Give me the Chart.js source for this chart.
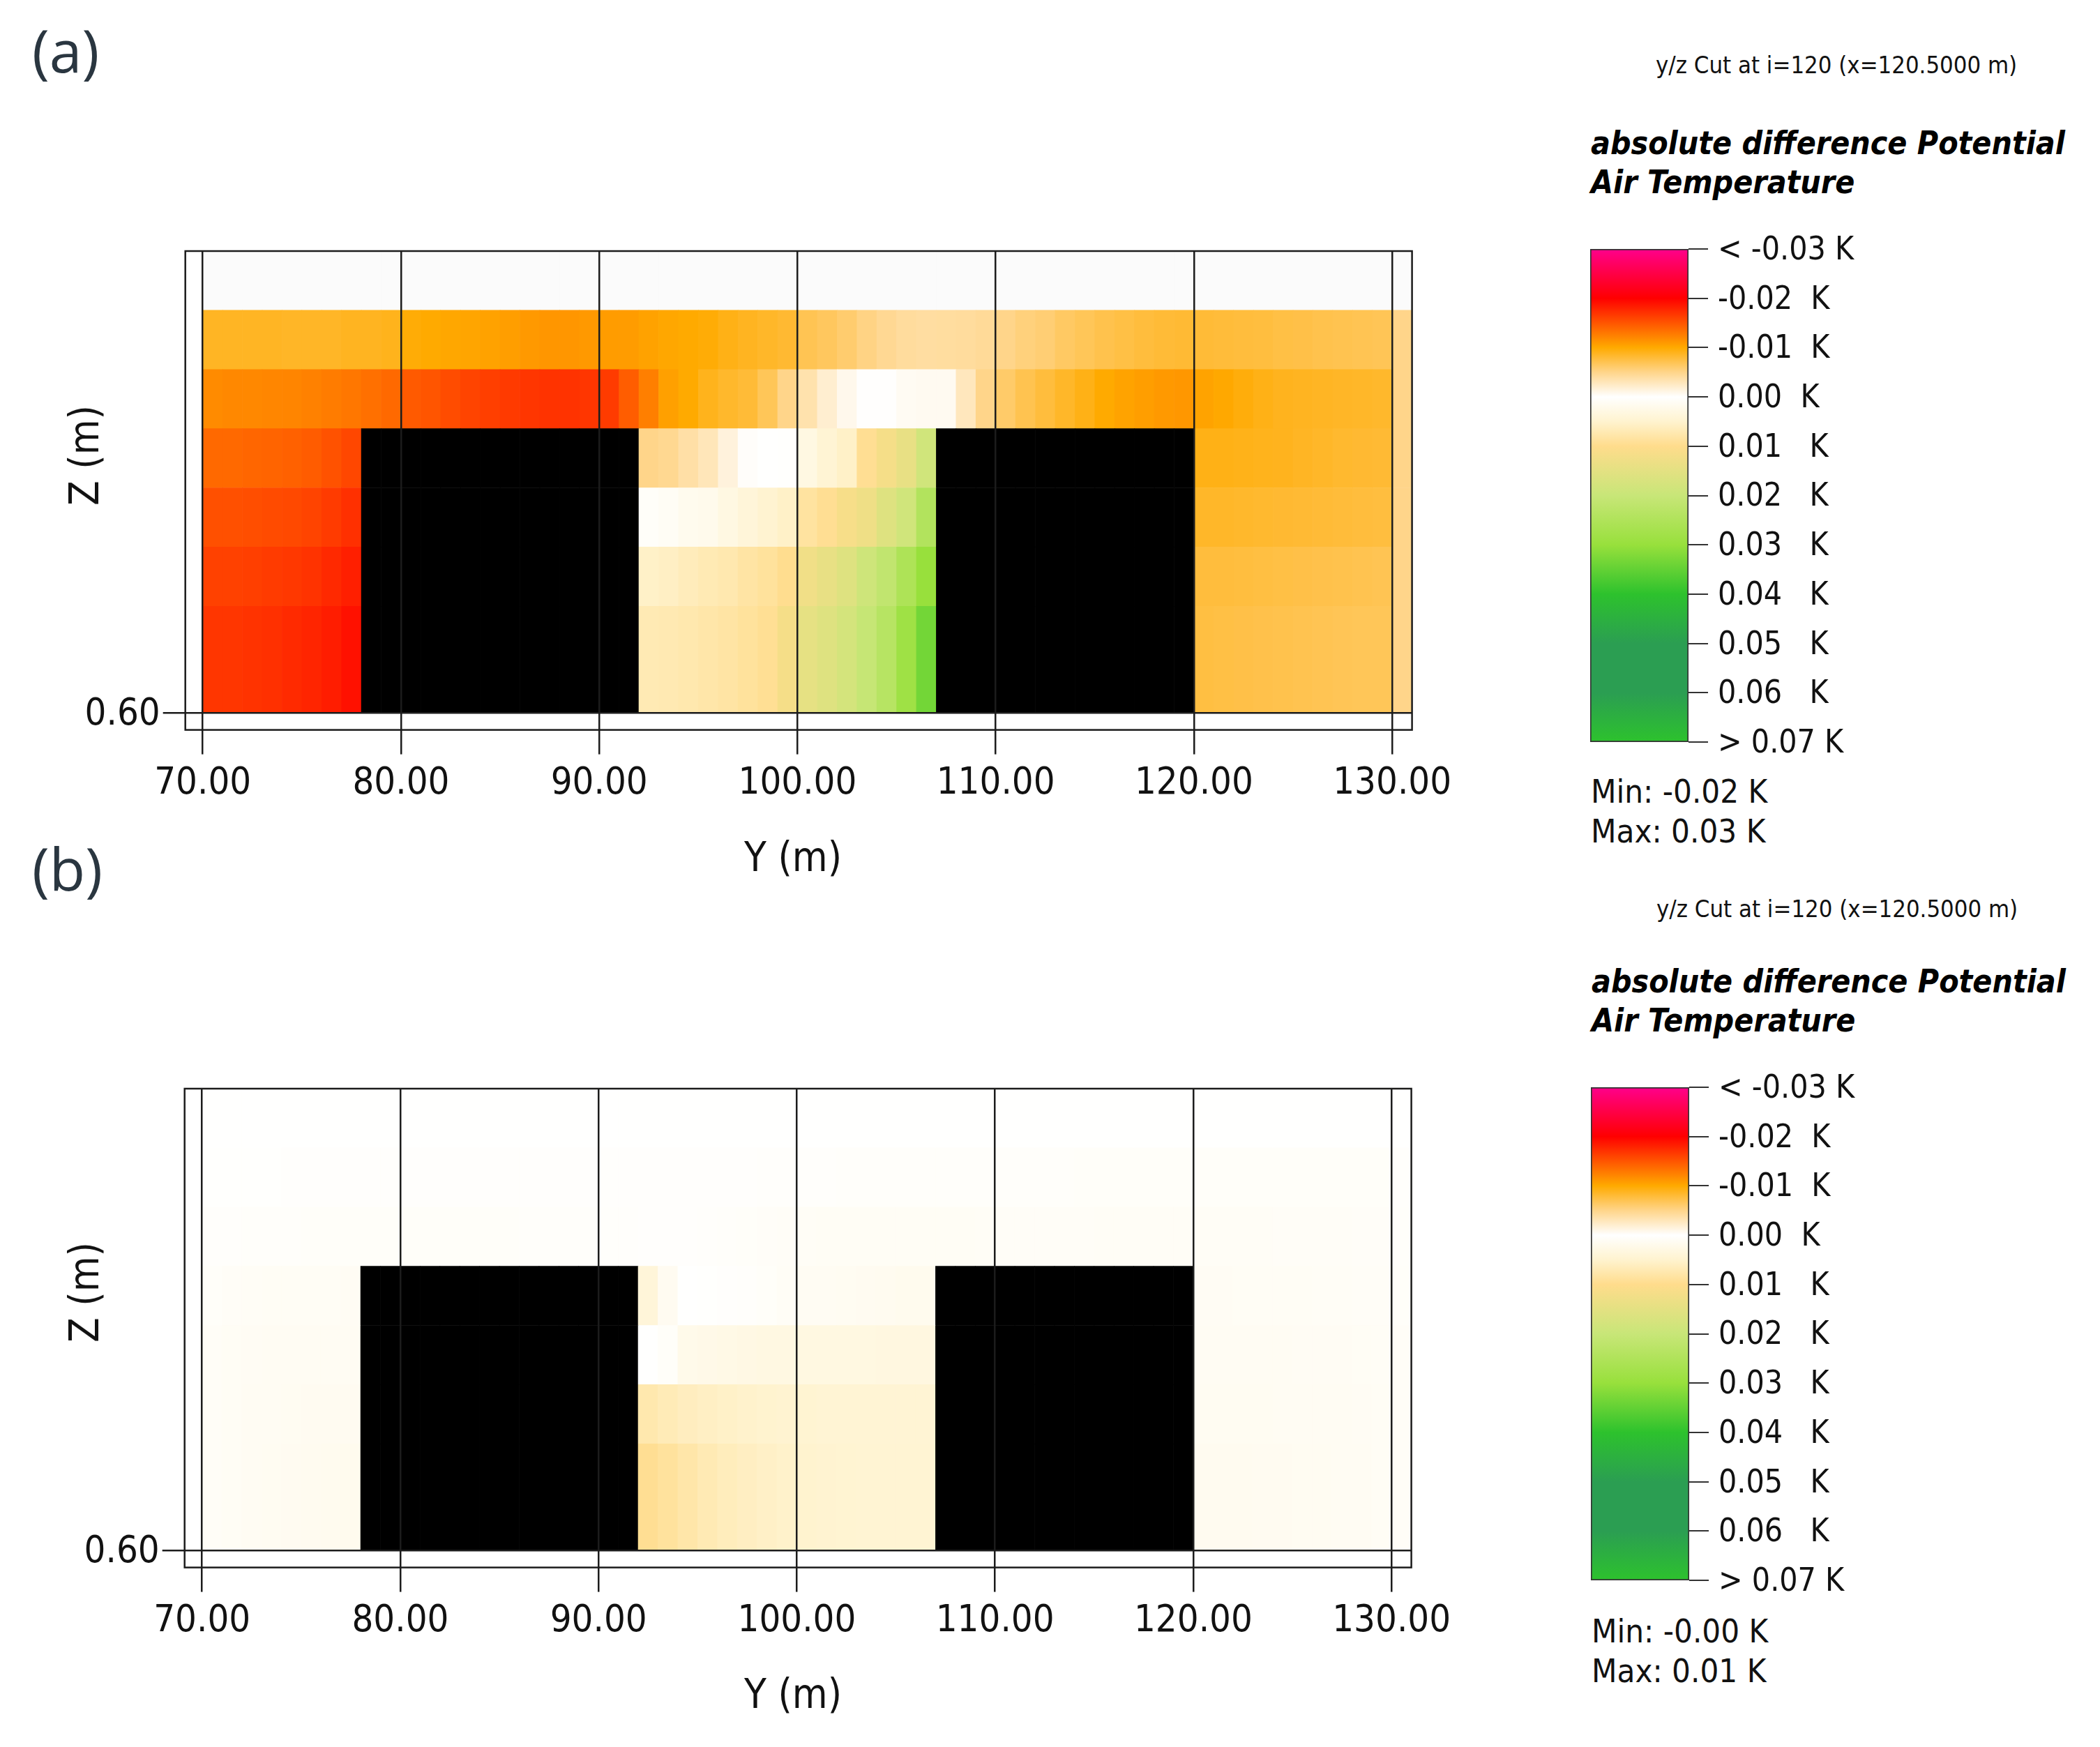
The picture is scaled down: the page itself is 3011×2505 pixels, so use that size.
<!DOCTYPE html>
<html>
<head>
<meta charset="utf-8">
<script src="https://cdn.jsdelivr.net/npm/chart.js@4"></script>
<style>
html, body { margin: 0; background: #fff; }
#page { position: relative; width: 3011px; height: 2505px; overflow: hidden; }
canvas { position: absolute; }
.t { position: absolute; white-space: pre; line-height: 1; transform: translateY(-50%); color: #111; font-family: "DejaVu Sans Condensed", "DejaVu Sans", sans-serif; }
.panel { font-family: "Open Sans", sans-serif; font-size: 84px; color: #2a3640; }
.axis { font-size: 58px; }
.cut { font-size: 34.4px; }
.head { font-size: 46px; font-weight: bold; font-style: italic; color: #000; }
.minmax { font-size: 47px; }
.rot { transform: translate(-50%, -50%) rotate(-90deg); }
</style>
</head>
<body>
<div id="page">
  <canvas id="panelA"></canvas>
  <canvas id="panelB"></canvas>
  <canvas id="legendA"></canvas>
  <canvas id="legendB"></canvas>

  <div class="t panel" style="left:46px;top:72px">(a)</div>
  <div class="t panel" style="left:46px;top:1245px">(b)</div>

  <div class="t axis rot" style="left:121px;top:653px">Z (m)</div>
  <div class="t axis" style="left:1067px;top:1229px">Y (m)</div>
  <div class="t axis rot" style="left:121px;top:1853px">Z (m)</div>
  <div class="t axis" style="left:1067px;top:2429px">Y (m)</div>

  <div class="t cut" style="left:2374px;top:93px">y/z Cut at i=120 (x=120.5000 m)</div>
  <div class="t head" style="left:2281px;top:205px">absolute difference Potential</div>
  <div class="t head" style="left:2281px;top:261px">Air Temperature</div>
  <div class="t minmax" style="left:2281px;top:1134px">Min: -0.02 K</div>
  <div class="t minmax" style="left:2281px;top:1191px">Max: 0.03 K</div>

  <div class="t cut" style="left:2375px;top:1303px">y/z Cut at i=120 (x=120.5000 m)</div>
  <div class="t head" style="left:2282px;top:1407px">absolute difference Potential</div>
  <div class="t head" style="left:2282px;top:1463px">Air Temperature</div>
  <div class="t minmax" style="left:2282px;top:2338px">Min: -0.00 K</div>
  <div class="t minmax" style="left:2282px;top:2395px">Max: 0.01 K</div>
</div>

<script>
// legend
const legendLabels = ['< -0.03 K', '-0.02  K', '-0.01  K', '0.00  K', '0.01   K', '0.02   K', '0.03   K', '0.04   K', '0.05   K', '0.06   K', '> 0.07 K'];
const stopValues = [-0.03, -0.02, -0.015, -0.01, -0.005, 0, 0.005, 0.01, 0.02, 0.03, 0.04, 0.05, 0.06, 0.07];
const stopColours = ['#ff008c', '#ff0000', '#ff5500', '#ffaa00', '#ffd58a', '#ffffff', '#fff3cf', '#ffdc8c', '#c8e678', '#98e03c', '#2dc22d', '#2b9e52', '#2b9e52', '#2dc22d'];
const noDiffColour = '#fbfbfb';
const buildingColour = '#000000';

// grid of the y/z cut
const cellY = [70.5,71.5,72.5,73.5,74.5,75.5,76.5,77.5,78.5,79.5,80.5,81.5,82.5,83.5,84.5,85.5,86.5,87.5,88.5,89.5,90.5,91.5,92.5,93.5,94.5,95.5,96.5,97.5,98.5,99.5,100.5,101.5,102.5,103.5,104.5,105.5,106.5,107.5,108.5,109.5,110.5,111.5,112.5,113.5,114.5,115.5,116.5,117.5,118.5,119.5,120.5,121.5,122.5,123.5,124.5,125.5,126.5,127.5,128.5,129.5,130.5];
const zEdges = [0.6, 6, 9, 12, 15, 18, 21, 24];
const _ = null; // building

// (a) rows from the ground up, K
const a1 = [-0.0168,-0.0168,-0.0170,-0.0172,-0.0175,-0.0178,-0.0183,-0.0190,_,_,_,_,_,_,_,_,_,_,_,_,_,_,0.0070,0.0072,0.0075,0.0078,0.0082,0.0088,0.0094,0.0118,0.0145,0.0160,0.0178,0.0205,0.0235,0.0285,0.0335,_,_,_,_,_,_,_,_,_,_,_,_,_,-0.0076,-0.0075,-0.0074,-0.0073,-0.0072,-0.0071,-0.0070,-0.0069,-0.0068,-0.0068,-0.0050];
const a2 = [-0.0162,-0.0162,-0.0163,-0.0165,-0.0167,-0.0170,-0.0176,-0.0182,_,_,_,_,_,_,_,_,_,_,_,_,_,_,0.0055,0.0058,0.0065,0.0070,0.0074,0.0082,0.0088,0.0098,0.0125,0.0142,0.0160,0.0190,0.0215,0.0255,0.0300,_,_,_,_,_,_,_,_,_,_,_,_,_,-0.0078,-0.0078,-0.0077,-0.0076,-0.0075,-0.0074,-0.0073,-0.0072,-0.0071,-0.0070,-0.0050];
const a3 = [-0.0153,-0.0153,-0.0154,-0.0156,-0.0157,-0.0160,-0.0165,-0.0172,_,_,_,_,_,_,_,_,_,_,_,_,_,_,0.0006,0.0010,0.0018,0.0020,0.0030,0.0040,0.0048,0.0055,0.0085,0.0095,0.0115,0.0130,0.0160,0.0185,0.0245,_,_,_,_,_,_,_,_,_,_,_,_,_,-0.0085,-0.0085,-0.0084,-0.0083,-0.0082,-0.0081,-0.0080,-0.0079,-0.0078,-0.0077,-0.0050];
const a4 = [-0.0138,-0.0138,-0.0140,-0.0141,-0.0143,-0.0146,-0.0152,-0.0158,_,_,_,_,_,_,_,_,_,_,_,_,_,_,-0.0050,-0.0047,-0.0038,-0.0030,-0.0015,-0.0002,0.0001,0.0002,0.0030,0.0045,0.0055,0.0095,0.0118,0.0142,0.0186,_,_,_,_,_,_,_,_,_,_,_,_,_,-0.0092,-0.0092,-0.0091,-0.0090,-0.0089,-0.0087,-0.0085,-0.0083,-0.0082,-0.0081,-0.0050];
const a5 = [-0.0118,-0.0120,-0.0120,-0.0121,-0.0122,-0.0124,-0.0127,-0.0130,-0.0134,-0.0138,-0.0147,-0.0150,-0.0155,-0.0160,-0.0163,-0.0166,-0.0168,-0.0170,-0.0170,-0.0168,-0.0165,-0.0145,-0.0125,-0.0106,-0.0100,-0.0090,-0.0084,-0.0080,-0.0068,-0.0050,-0.0035,-0.0020,-0.0008,-0.0001,-0.0001,-0.0005,-0.0006,-0.0006,-0.0028,-0.0050,-0.0062,-0.0071,-0.0078,-0.0085,-0.0092,-0.0100,-0.0104,-0.0107,-0.0110,-0.0111,-0.0104,-0.0101,-0.0096,-0.0092,-0.0089,-0.0088,-0.0087,-0.0086,-0.0085,-0.0084,-0.0050];
const a6 = [-0.0087,-0.0087,-0.0087,-0.0087,-0.0086,-0.0086,-0.0086,-0.0088,-0.0088,-0.0090,-0.0098,-0.0100,-0.0102,-0.0103,-0.0105,-0.0107,-0.0110,-0.0112,-0.0112,-0.0110,-0.0108,-0.0108,-0.0105,-0.0102,-0.0100,-0.0098,-0.0092,-0.0088,-0.0085,-0.0082,-0.0070,-0.0066,-0.0060,-0.0052,-0.0046,-0.0042,-0.0040,-0.0041,-0.0042,-0.0044,-0.0050,-0.0055,-0.0058,-0.0064,-0.0068,-0.0072,-0.0075,-0.0078,-0.0080,-0.0081,-0.0080,-0.0079,-0.0078,-0.0077,-0.0075,-0.0074,-0.0072,-0.0071,-0.0070,-0.0069,-0.0050];
const a7 = [0,0,0,0,0,0,0,0,0,0,0,0,0,0,0,0,0,0,0,0,0,0,0,0,0,0,0,0,0,0,0,0,0,0,0,0,0,0,0,0,0,0,0,0,0,0,0,0,0,0,0,0,0,0,0,0,0,0,0,0,0];

// (b)
const b1 = [0.0008,0.0010,0.0012,0.0014,0.0015,0.0016,0.0017,0.0018,_,_,_,_,_,_,_,_,_,_,_,_,_,_,0.0095,0.0087,0.0078,0.0070,0.0064,0.0060,0.0056,0.0053,0.0050,0.0048,0.0047,0.0046,0.0046,0.0046,0.0046,_,_,_,_,_,_,_,_,_,_,_,_,_,0.0016,0.0016,0.0016,0.0015,0.0015,0.0014,0.0014,0.0013,0.0012,0.0010,0.0008];
const b2 = [0.0008,0.0010,0.0012,0.0013,0.0014,0.0015,0.0015,0.0015,_,_,_,_,_,_,_,_,_,_,_,_,_,_,0.0075,0.0068,0.0062,0.0058,0.0055,0.0052,0.0050,0.0048,0.0047,0.0045,0.0045,0.0045,0.0045,0.0045,0.0045,_,_,_,_,_,_,_,_,_,_,_,_,_,0.0014,0.0014,0.0014,0.0014,0.0013,0.0013,0.0012,0.0012,0.0011,0.0010,0.0008];
const b3 = [0.0008,0.0010,0.0011,0.0012,0.0012,0.0013,0.0013,0.0013,_,_,_,_,_,_,_,_,_,_,_,_,_,_,0.0001,0.0006,0.0022,0.0024,0.0026,0.0028,0.0030,0.0030,0.0031,0.0031,0.0031,0.0031,0.0032,0.0032,0.0032,_,_,_,_,_,_,_,_,_,_,_,_,_,0.0012,0.0012,0.0012,0.0012,0.0012,0.0011,0.0011,0.0011,0.0010,0.0009,0.0008];
const b4 = [0.0006,0.0008,0.0009,0.0010,0.0010,0.0010,0.0010,0.0011,_,_,_,_,_,_,_,_,_,_,_,_,_,_,0.0040,0.0015,0.0001,0.0002,0.0003,0.0004,0.0006,0.0009,0.0012,0.0013,0.0014,0.0015,0.0016,0.0018,0.0018,_,_,_,_,_,_,_,_,_,_,_,_,_,0.0011,0.0011,0.0010,0.0010,0.0010,0.0010,0.0009,0.0009,0.0008,0.0008,0.0006];
const b5 = [0.0004,0.0004,0.0005,0.0005,0.0005,0.0006,0.0006,0.0006,0.0006,0.0006,0.0006,0.0006,0.0006,0.0006,0.0006,0.0006,0.0005,0.0005,0.0005,0.0005,0.0004,0.0004,0.0003,0.0003,0.0003,0.0004,0.0005,0.0006,0.0007,0.0008,0.0009,0.0010,0.0010,0.0010,0.0010,0.0010,0.0010,0.0010,0.0010,0.0009,0.0008,0.0008,0.0008,0.0008,0.0008,0.0009,0.0009,0.0009,0.0009,0.0009,0.0009,0.0009,0.0009,0.0009,0.0008,0.0008,0.0008,0.0008,0.0007,0.0007,0.0005];
const b6 = [0.0002,0.0002,0.0002,0.0002,0.0003,0.0003,0.0003,0.0003,0.0003,0.0003,0.0003,0.0003,0.0003,0.0003,0.0003,0.0003,0.0003,0.0003,0.0003,0.0003,0.0003,0.0003,0.0003,0.0003,0.0003,0.0003,0.0003,0.0003,0.0004,0.0004,0.0004,0.0004,0.0005,0.0005,0.0005,0.0005,0.0005,0.0005,0.0005,0.0005,0.0005,0.0005,0.0005,0.0005,0.0006,0.0006,0.0006,0.0006,0.0006,0.0006,0.0006,0.0006,0.0006,0.0006,0.0006,0.0006,0.0006,0.0006,0.0006,0.0006,0.0004];
const b7 = [0.0001,0.0001,0.0001,0.0001,0.0001,0.0001,0.0001,0.0001,0.0001,0.0001,0.0001,0.0001,0.0001,0.0001,0.0001,0.0001,0.0001,0.0001,0.0001,0.0001,0.0001,0.0001,0.0001,0.0001,0.0001,0.0001,0.0001,0.0001,0.0001,0.0001,0.0001,0.0001,0.0001,0.0001,0.0001,0.0001,0.0001,0.0001,0.0001,0.0001,0.0001,0.0001,0.0001,0.0001,0.0001,0.0001,0.0001,0.0001,0.0001,0.0001,0.0001,0.0001,0.0001,0.0001,0.0001,0.0001,0.0001,0.0001,0.0001,0.0001,0.0001];

const zTicks = [0.6];
const fontName = '"DejaVu Sans Condensed", "DejaVu Sans", sans-serif';
const lineColour = '#1c1c1c';

function hexToRgb(h){
    return [1, 3, 5].map(i => parseInt(h.substr(i, 2), 16));
}

function colourFor(v){
    if(v === null) return buildingColour;
    if(v === 0) return noDiffColour;
    let i = 0;
    while(i < stopValues.length - 2 && v > stopValues[i+1]) i++;
    let t = (v - stopValues[i]) / (stopValues[i+1] - stopValues[i]);
    t = Math.max(0, Math.min(1, t));
    const c0 = hexToRgb(stopColours[i]), c1 = hexToRgb(stopColours[i+1]);
    const c = c0.map((x, k) => Math.round(x + (c1[k] - x) * t));
    return `rgb(${c[0]},${c[1]},${c[2]})`;
}

const framePlugin = {
    id: 'frame',
    afterDraw(chart){
        const a = chart.chartArea, ctx = chart.ctx;
        ctx.save();
        ctx.strokeStyle = lineColour;
        ctx.lineWidth = 2.5;
        ctx.strokeRect(a.left, a.top, a.right - a.left, a.bottom - a.top);
        ctx.restore();
    }
};

function drawPanel(id, rows, left, top){
    const canvas = document.getElementById(id);
    canvas.style.left = left + 'px';
    canvas.style.top = top + 'px';
    canvas.width = 2200;
    canvas.height = 1190;
    const datasets = rows.map((row, r) => ({
        data: row.map((v, i) => ({x: cellY[i], y: [zEdges[r], zEdges[r+1]]})),
        backgroundColor: row.map(colourFor),
        borderWidth: 0,
        grouped: false,
        categoryPercentage: 1,
        barPercentage: 1
    }));
    new Chart(canvas, {
        type: 'bar',
        data: {datasets},
        options: {
            responsive: false,
            animation: false,
            layout: {padding: {top: 360, right: 175.4, left: 0, bottom: 0}},
            plugins: {legend: {display: false}, tooltip: {enabled: false}},
            scales: {
                x: {
                    type: 'linear',
                    min: 69.12,
                    max: 131,
                    offset: false,
                    grid: {offset: false, color: lineColour, lineWidth: 2.5, tickLength: 35, z: 1},
                    border: {display: false},
                    ticks: {
                        stepSize: 10,
                        includeBounds: false,
                        autoSkip: false,
                        maxRotation: 0,
                        padding: 10,
                        color: '#111',
                        font: {family: fontName, size: 54},
                        callback: v => v.toFixed(2)
                    },
                    afterFit(scale){
                        scale.height = 1190 - 1046.6;
                        scale.paddingLeft = 0;
                        scale.paddingRight = 0;
                    }
                },
                y: {
                    type: 'linear',
                    min: -0.27,
                    max: 24,
                    afterBuildTicks(axis){ axis.ticks = zTicks.map(value => ({value})); },
                    grid: {color: lineColour, lineWidth: 2.5, tickLength: 32, z: 1},
                    border: {display: false},
                    ticks: {
                        padding: 4,
                        labelOffset: 3,
                        color: '#111',
                        font: {family: fontName, size: 54},
                        callback: v => v.toFixed(2)
                    },
                    afterFit(scale){
                        scale.width = 265.7;
                        scale.paddingTop = 0;
                        scale.paddingBottom = 0;
                    }
                }
            }
        },
        plugins: [framePlugin]
    });
}

function drawLegend(id, left, top){
    const canvas = document.getElementById(id);
    canvas.style.left = left + 'px';
    canvas.style.top = top + 'px';
    canvas.width = 451;
    canvas.height = 780;
    new Chart(canvas, {
        type: 'bar',
        data: {
            labels: ['K'],
            datasets: [{
                data: [[stopValues[0], stopValues[stopValues.length-1]]],
                backgroundColor(ctx){
                    const y = ctx.chart.scales.y;
                    const lo = y.getPixelForValue(stopValues[0]);
                    const hi = y.getPixelForValue(stopValues[stopValues.length-1]);
                    if(!isFinite(lo) || !isFinite(hi)) return '#fff';
                    const g = ctx.chart.ctx.createLinearGradient(0, lo, 0, hi);
                    stopValues.forEach((v, i) => g.addColorStop((v - stopValues[0]) / 0.1, stopColours[i]));
                    return g;
                },
                borderColor: '#333',
                borderWidth: 2,
                borderSkipped: false,
                categoryPercentage: 1,
                barPercentage: 1
            }]
        },
        options: {
            responsive: false,
            animation: false,
            layout: {padding: {top: 57, left: 10, right: 0, bottom: 16}},
            plugins: {legend: {display: false}, tooltip: {enabled: false}},
            scales: {
                x: {display: false},
                y: {
                    position: 'right',
                    reverse: true,
                    min: stopValues[0],
                    max: stopValues[stopValues.length-1],
                    grid: {drawOnChartArea: false, color: '#333', lineWidth: 2, tickLength: 28},
                    border: {display: false},
                    ticks: {
                        stepSize: 0.01,
                        autoSkip: false,
                        padding: 14,
                        labelOffset: 3,
                        color: '#111',
                        font: {family: fontName, size: 46},
                        callback: v => legendLabels[Math.round((v - stopValues[0]) * 100)]
                    },
                    afterFit(scale){
                        scale.width = 300;
                        scale.paddingTop = 0;
                        scale.paddingBottom = 0;
                    }
                }
            }
        }
    });
}

drawPanel('panelA', [a1, a2, a3, a4, a5, a6, a7], 0, 0);
drawPanel('panelB', [b1, b2, b3, b4, b5, b6, b7], -1, 1201);
drawLegend('legendA', 2270, 300);
drawLegend('legendB', 2271, 1502);
</script>
</body>
</html>
